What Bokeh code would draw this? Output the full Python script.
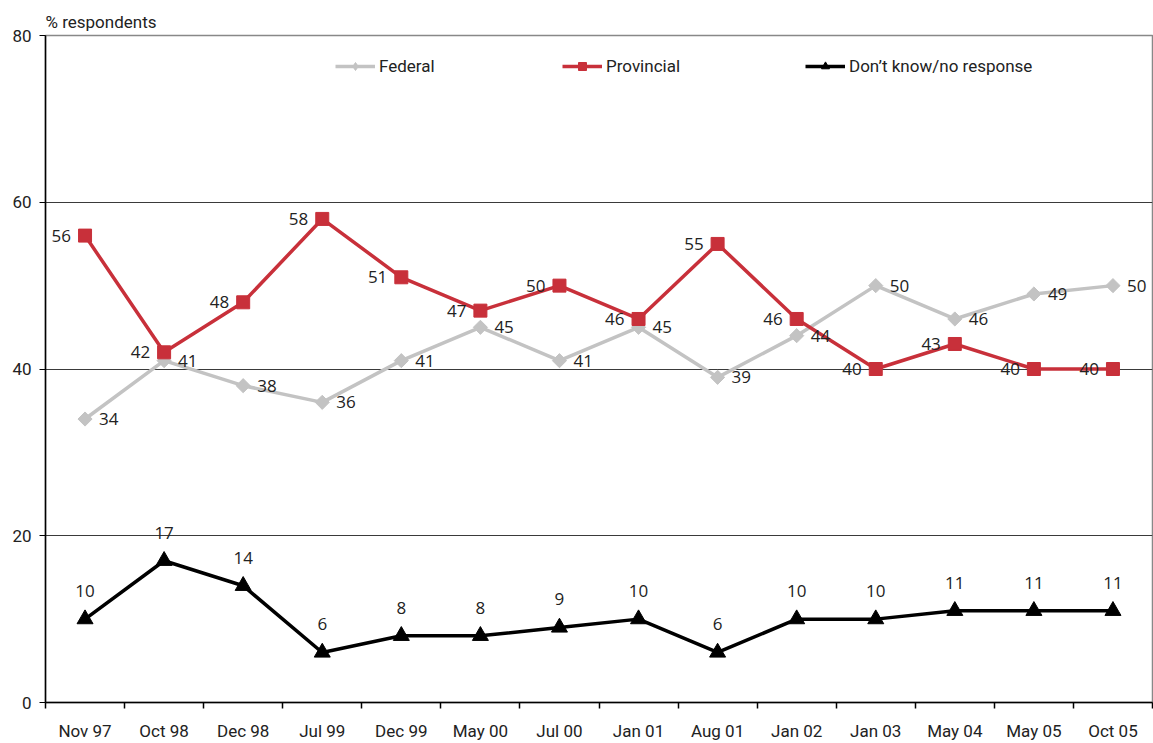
import math
from bokeh.plotting import figure
from bokeh.models import (ColumnDataSource, FixedTicker, Legend, LegendItem,
                          LabelSet, Range1d)
from bokeh.core.properties import value
from bokeh.embed import file_html
from bokeh.resources import INLINE

categories = ["Nov 97", "Oct 98", "Dec 98", "Jul 99", "Dec 99", "May 00", "Jul 00",
              "Jan 01", "Aug 01", "Jan 02", "Jan 03", "May 04", "May 05", "Oct 05"]
federal = [34, 41, 38, 36, 41, 45, 41, 45, 39, 44, 50, 46, 49, 50]
provincial = [56, 42, 48, 58, 51, 47, 50, 46, 55, 46, 40, 43, 40, 40]
dont_know = [10, 17, 14, 6, 8, 8, 9, 10, 6, 10, 10, 11, 11, 11]
y_ticks = [0, 20, 40, 60, 80]

n = len(categories)
xs = [i + 0.5 for i in range(n)]

src = ColumnDataSource(dict(
    x=xs,
    fed=federal, prov=provincial, dk=dont_know,
    fed_t=[str(v) for v in federal],
    prov_t=[str(v) for v in provincial],
    dk_t=[str(v) for v in dont_know],
))

AX_FONT = "Roboto"
LBL_FONT = "Open Sans"

p = figure(width=1153, height=743, output_backend="svg", toolbar_location=None,
           x_range=Range1d(0, n), y_range=Range1d(0, 80),
           min_border_left=45, min_border_right=1, min_border_bottom=40,
           min_border_top=35)

p.title.text = "% respondents"
p.title.text_font = AX_FONT
p.title.text_font_size = "17px"
p.title.text_font_style = "normal"
p.title.text_color = "#222222"
p.title.align = "left"
p.title.offset = 0
p.title.standoff = 8

p.outline_line_color = "#888888"
p.outline_line_width = 1.5
p.background_fill_color = "white"
p.border_fill_color = "white"

# grid
p.xgrid.visible = False
p.ygrid.ticker = FixedTicker(ticks=y_ticks)
p.ygrid.grid_line_color = "#3a3a3a"
p.ygrid.grid_line_width = 1

# y axis
p.yaxis.ticker = FixedTicker(ticks=y_ticks)
p.yaxis.axis_line_color = "black"
p.yaxis.axis_line_width = 1.5
p.yaxis.major_tick_out = 6
p.yaxis.major_tick_in = 0
p.yaxis.minor_tick_line_color = None
p.yaxis.major_label_text_font = AX_FONT
p.yaxis.major_label_text_font_size = "17px"
p.yaxis.major_label_text_color = "#222222"
p.yaxis.major_label_standoff = 8

# x axis: labels at category centres, ticks at boundaries
p.xaxis.ticker = FixedTicker(ticks=xs, minor_ticks=list(range(n + 1)))
p.xaxis.major_label_overrides = {x: c for x, c in zip(xs, categories)}
p.xaxis.axis_line_color = "black"
p.xaxis.axis_line_width = 1.5
p.xaxis.major_tick_line_color = None
p.xaxis.major_tick_out = 0
p.xaxis.major_tick_in = 0
p.xaxis.minor_tick_out = 6
p.xaxis.minor_tick_in = 0
p.xaxis.minor_tick_line_color = "black"
p.xaxis.minor_tick_line_width = 1.5
p.xaxis.major_label_text_font = AX_FONT
p.xaxis.major_label_text_font_size = "17px"
p.xaxis.major_label_text_color = "#222222"
p.xaxis.major_label_standoff = 12

GRAY = "#C3C3C3"
RED = "#C8303A"

fl = p.line("x", "fed", source=src, line_color=GRAY, line_width=3.5)
fm = p.scatter("x", "fed", source=src, marker="square", size=10, angle=math.pi / 4,
               fill_color=GRAY, line_color=GRAY)
# off-screen (NaN) renderer used only for the legend swatch, since the legend
# ignores the marker angle
fm_leg = p.scatter(x=[float("nan")], y=[float("nan")], marker="diamond", size=15,
                   fill_color=GRAY, line_color=GRAY)
pl = p.line("x", "prov", source=src, line_color=RED, line_width=3.5)
pm = p.scatter("x", "prov", source=src, marker="square", size=13,
               fill_color=RED, line_color=RED)
dl = p.line("x", "dk", source=src, line_color="black", line_width=3.5)
dm = p.scatter("x", "dk", source=src, marker="triangle", size=16,
               fill_color="black", line_color="black")

lbl_kw = dict(text_font=value(LBL_FONT), text_font_size=value("17px"),
              text_color="#222222", text_baseline="middle")
p.add_layout(LabelSet(x="x", y="fed", text="fed_t", source=src, x_offset=14,
                      y_offset=0, text_align="left", **lbl_kw))
p.add_layout(LabelSet(x="x", y="prov", text="prov_t", source=src, x_offset=-14,
                      y_offset=0, text_align="right", **lbl_kw))
p.add_layout(LabelSet(x="x", y="dk", text="dk_t", source=src, x_offset=0,
                      y_offset=28, text_align="center", **lbl_kw))

def make_legend(label, rends, loc):
    lg = Legend(items=[LegendItem(label=label, renderers=rends)], location=loc,
                orientation="horizontal", padding=0, margin=0, spacing=0,
                glyph_width=40, glyph_height=20, label_standoff=4,
                label_text_font=AX_FONT, label_text_font_size="17px",
                label_text_color="#222222",
                border_line_color=None, background_fill_alpha=0)
    p.add_layout(lg)

make_legend("Federal", [fl, fm_leg], (290, 626))
make_legend("Provincial", [pl, pm], (517, 626))
make_legend("Don\u2019t know/no response", [dl, dm], (760, 626))

open("out.html", "w").write(file_html(p, INLINE))
